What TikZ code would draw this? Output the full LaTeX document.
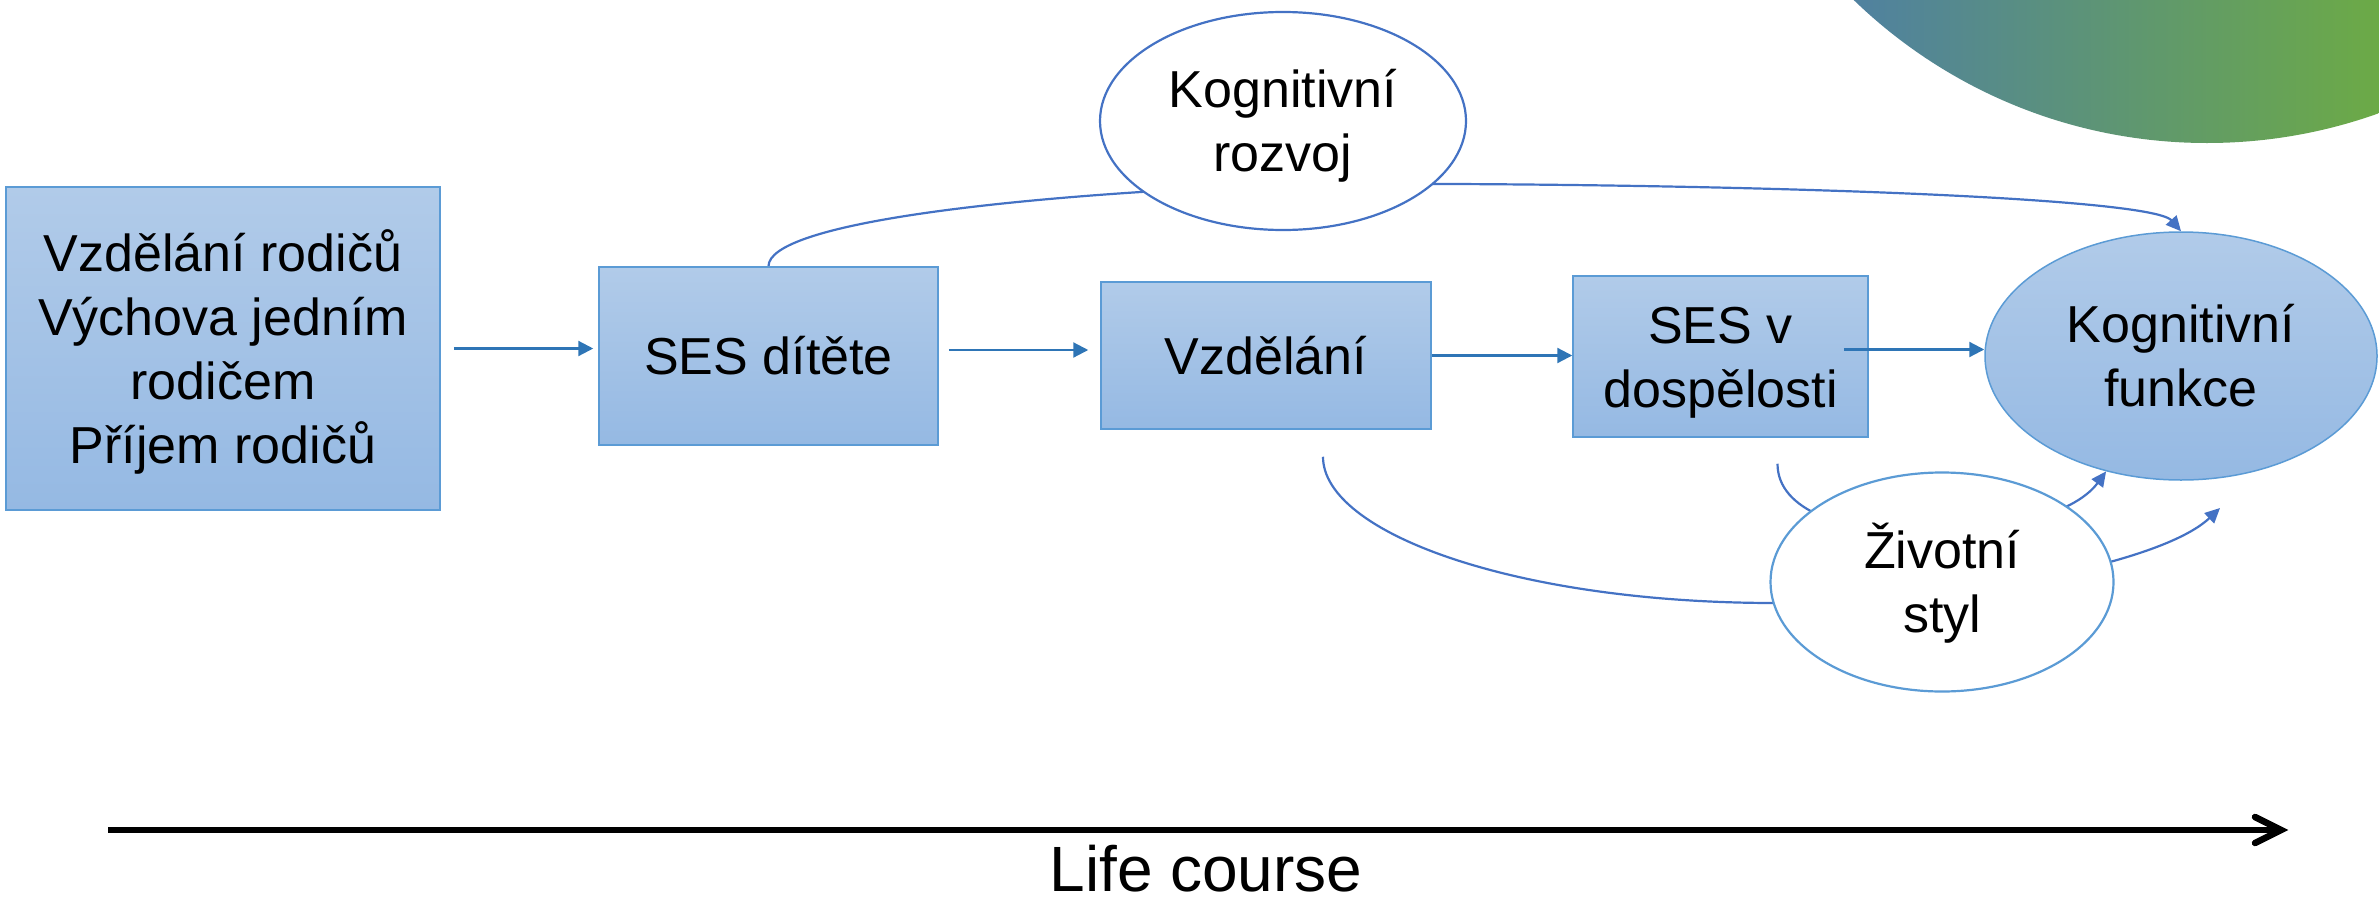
\documentclass[tikz,border=0pt]{standalone}
\usepackage{fontspec}
\setmainfont{Liberation Sans}
\usetikzlibrary{arrows.meta,shapes.geometric,calc}
\pgfdeclarelayer{background}
\pgfsetlayers{background,main}

\definecolor{boxtop}{RGB}{177,203,233}
\definecolor{boxbot}{RGB}{149,185,227}
\definecolor{boxedge}{RGB}{91,155,213}
\definecolor{flowblue}{RGB}{46,117,182}
\definecolor{linkblue}{RGB}{68,114,196}
\definecolor{arcblue}{RGB}{79,128,162}
\definecolor{arcgreen}{RGB}{108,170,70}

% invisible strut: keeps every text line the same height so nodes centre on the caps
\newcommand\lnstrut{\rule[-12.8pt]{0pt}{62.8pt}}

\begin{document}
\begin{tikzpicture}[x=1pt,y=-1pt,
  every node/.style={font=\fontsize{52}{64}\selectfont, align=center, inner sep=0pt},
  stage/.style={rectangle, draw=boxedge, line width=1.5pt, top color=boxtop, bottom color=boxbot},
  outcome/.style={ellipse, draw=boxedge, line width=1.5pt, top color=boxtop, bottom color=boxbot},
  pathway/.style={ellipse, fill=white, line width=2.2pt},
  flow/.style={draw=flowblue, line width=2.2pt, -{Triangle[length=15pt,width=15pt]}},
  link/.style={draw=linkblue, line width=2.2pt, -{Triangle[length=15pt,width=14pt]}},
  timeline/.style={line width=6pt},
]
\useasboundingbox (0,0) rectangle (2379,905);

% decorative arc in the upper right corner
\begin{scope}
  \clip (2207,-365) circle (508pt);
  \shade[left color=arcblue, right color=arcgreen] (1840,0) rectangle (2379,150);
\end{scope}

% stages of the life course
\node[stage, minimum width=434pt, minimum height=323pt] (b1) at (223,348.5)
  {\lnstrut Vzdělání rodičů\\\lnstrut Výchova jedním\\\lnstrut rodičem\\\lnstrut Příjem rodičů};
\node[stage, minimum width=339pt, minimum height=178pt] (b2) at (768.5,356) {\lnstrut SES dítěte};
\node[stage, minimum width=330pt, minimum height=147pt] (b3) at (1266,355.5) {\lnstrut Vzdělání};
\node[stage, minimum width=295pt, minimum height=161pt] (b4) at (1720.5,356.5)
  {\lnstrut SES v\\\lnstrut dospělosti};
\node[outcome, minimum width=392pt, minimum height=248pt] (kf) at (2181,356)
  {\lnstrut Kognitivní\\\lnstrut funkce};

% mediating factors
\node[pathway, draw=linkblue, minimum width=366pt, minimum height=218pt] (kr) at (1283,121)
  {\lnstrut Kognitivní\\\lnstrut rozvoj};
\node[pathway, draw=boxedge, minimum width=343pt, minimum height=219pt] (zs) at (1942,582)
  {\lnstrut Životní\\\lnstrut styl};

\coordinate (ce) at (2220,508);

% main chain
\draw[flow, shorten <=13pt, shorten >=5pt] (b1.east) -- (b1.east -| b2.west);
\draw[flow, shorten <=10pt, shorten >=12pt] ($(b2.east)+(0,-6)$) -- ($(b2.east -| b3.west)+(0,-6)$);
\draw[flow] (b3.east) -- (b3.east -| b4.west);
\draw[flow] ($(b4.east)+(-25,-7)$) -- ($(b4.east -| kf.west)+(0,-7)$);

% indirect pathways, passing behind the mediator ellipses
\begin{pgfonlayer}{background}
  \draw[link] (b2.north) .. controls +(0,-42) and (1000,195) .. (1300,184)
    .. controls (1700,182) and (2150,196) .. (kf.north);
  \draw[link] ($(b3.south)+(57,27)$) .. controls +(0,76) and (1515,603) .. (1775,603)
    .. controls (1950,603) and (2160,565) .. (ce);
  \draw[link] ($(b4.south)+(57,26)$) .. controls +(0,95) and (2050,548) .. (kf.237);
\end{pgfonlayer}

% time axis
\coordinate (t0) at (108,830);
\coordinate (t1) at (2281,830);
\draw[timeline] (t0) -- (t1);
\draw[timeline, line width=6.5pt, line cap=round, miter limit=10]
  ($(t1)+(-26,-13)$) -- (t1) -- ($(t1)+(-26,13)$);
\node[font=\fontsize{64}{77}\selectfont, anchor=base] (lc) at (1206,891) {Life course};
\end{tikzpicture}
\end{document}
